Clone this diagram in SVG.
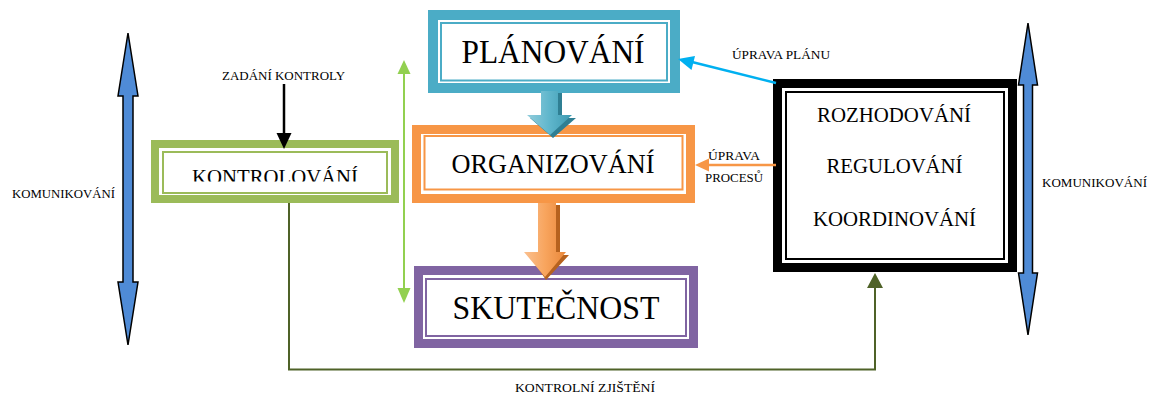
<svg xmlns="http://www.w3.org/2000/svg" width="1156" height="397" viewBox="0 0 1156 397">
<style>
.t{font-family:"Liberation Serif","Times New Roman",serif;fill:#000;text-anchor:middle}
.big{font-size:33px}
.mid{font-size:21px}
.sm{font-size:13px}
.box{fill:#fff}
</style>
<defs>
<linearGradient id="gTeal" x1="0" y1="0" x2="1" y2="0">
<stop offset="0" stop-color="#92CDDC"/><stop offset="0.5" stop-color="#5FB6CC"/><stop offset="1" stop-color="#3C99B0"/>
</linearGradient>
<linearGradient id="gOrange" x1="0" y1="0" x2="1" y2="0">
<stop offset="0" stop-color="#FAC090"/><stop offset="0.5" stop-color="#F8A55E"/><stop offset="1" stop-color="#E9873A"/>
</linearGradient>
<marker id="mBlack" markerWidth="6" markerHeight="6" refX="5" refY="3" orient="auto" markerUnits="strokeWidth"><path d="M0,0 L6,3 L0,6 Z" fill="#000"/></marker>
<clipPath id="clipK"><rect x="160" y="150" width="230" height="31.5"/></clipPath>
</defs>

<g id="komunikovani-left">
<path d="M128,33 L138,96 L133,96 L133,282 L138,282 L128,345 L118,282 L123,282 L123,96 L118,96 Z" fill="#4F8BD6" stroke="#000" stroke-width="1.5" stroke-linejoin="miter"/>
<text class="t" x="63.5" y="198" font-size="12.5" textLength="103" lengthAdjust="spacingAndGlyphs">KOMUNIKOVÁNÍ</text>
</g>

<g id="komunikovani-right">
<path d="M1028,23 L1037.5,85 L1032.5,85 L1032.5,273 L1037.5,273 L1028,335 L1018.5,273 L1023.5,273 L1023.5,85 L1018.5,85 Z" fill="#4F8BD6" stroke="#000" stroke-width="1.5"/>
<text class="t" x="1094.5" y="187" font-size="12.5" textLength="105" lengthAdjust="spacingAndGlyphs">KOMUNIKOVÁNÍ</text>
</g>

<g id="planovani">
<rect class="box" x="433" y="15" width="242" height="73" stroke="#4BACC6" stroke-width="10"/>
<rect fill="none" x="441" y="23" width="226" height="57.5" stroke="#4BACC6" stroke-width="2"/>
<text class="t big" x="553" y="63" textLength="183" lengthAdjust="spacingAndGlyphs">PLÁNOVÁNÍ</text>
</g>

<g id="organizovani">
<rect class="box" x="416.5" y="129.5" width="274" height="69" stroke="#F79646" stroke-width="9"/>
<rect fill="none" x="424.5" y="136" width="258" height="53.5" stroke="#F79646" stroke-width="2"/>
<text class="t" font-size="28" x="553" y="173" textLength="203" lengthAdjust="spacingAndGlyphs">ORGANIZOVÁNÍ</text>
</g>

<g id="skutecnost">
<rect class="box" x="418.5" y="270.5" width="275" height="73" stroke="#8064A2" stroke-width="9"/>
<rect fill="none" x="426" y="279" width="260" height="57" stroke="#8064A2" stroke-width="2"/>
<text class="t big" x="556" y="319" textLength="207" lengthAdjust="spacingAndGlyphs">SKUTEČNOST</text>
</g>

<g id="kontrolovani">
<rect class="box" x="155" y="144" width="240" height="55" stroke="#9BBB59" stroke-width="8"/>
<rect fill="none" x="163" y="152" width="224" height="41" stroke="#9BBB59" stroke-width="2"/>
<text class="t" font-size="22" x="275" y="184" textLength="166" lengthAdjust="spacingAndGlyphs" clip-path="url(#clipK)">KONTROLOVÁNÍ</text>
</g>

<g id="rozhodovani">
<rect class="box" x="777.5" y="83.5" width="235" height="184" stroke="#000" stroke-width="9"/>
<rect fill="none" x="786" y="92" width="218" height="167" stroke="#000" stroke-width="2"/>
<text class="t mid" x="894" y="122" textLength="154" lengthAdjust="spacingAndGlyphs">ROZHODOVÁNÍ</text>
<text class="t mid" x="894.5" y="173" textLength="136" lengthAdjust="spacingAndGlyphs">REGULOVÁNÍ</text>
<text class="t mid" x="894.5" y="226" textLength="163" lengthAdjust="spacingAndGlyphs">KOORDINOVÁNÍ</text>
</g>

<g id="connectors">
<!-- teal block arrow PLANOVANI -> ORGANIZOVANI -->
<path d="M544,93 L562,93 L562,118 L576,118 L553,138 L530,118 L544,118 Z" fill="#2F7F93"/>
<path d="M541,91 L558,91 L558,115 L572,115 L550,135 L527,115 L541,115 Z" fill="url(#gTeal)"/>
<!-- orange block arrow ORGANIZOVANI -> SKUTECNOST -->
<path d="M542,205 L560,205 L560,255 L569,255 L546,280 L529,255 L542,255 Z" fill="#B6621E"/>
<path d="M538,203 L556,203 L556,252 L566,252 L545,277 L524,252 L538,252 Z" fill="url(#gOrange)"/>
<!-- zadani kontroly -->
<line x1="284" y1="84" x2="284" y2="135" stroke="#000" stroke-width="2.5"/>
<path d="M276.5,133 L291.5,133 L284,149 Z" fill="#000"/>
<!-- green vertical double arrow -->
<line x1="404" y1="70" x2="404" y2="292" stroke="#92D050" stroke-width="2"/>
<path d="M397.5,74 L404,60 L410.5,74 Z" fill="#92D050"/>
<path d="M397.5,288 L404,303 L410.5,288 Z" fill="#92D050"/>
<!-- uprava planu -->
<line x1="776" y1="83" x2="692" y2="62" stroke="#00B0F0" stroke-width="2.5"/>
<path d="M678,59 L695,56 L691.5,70 Z" fill="#00B0F0"/>
<!-- uprava procesu -->
<line x1="776" y1="165" x2="705" y2="165" stroke="#F79646" stroke-width="2.5"/>
<path d="M695,165 L709,158.5 L709,171.5 Z" fill="#F79646"/>
<!-- kontrolni zjisteni -->
<polyline points="289,203 289,369.5 875,369.5 875,286" fill="none" stroke="#4F6228" stroke-width="2"/>
<path d="M867,288 L883,288 L875,273 Z" fill="#4F6228"/>
</g>

<g id="labels">
<text class="t sm" x="283.5" y="80" textLength="123" lengthAdjust="spacingAndGlyphs">ZADÁNÍ KONTROLY</text>
<text class="t sm" x="781" y="59" textLength="98" lengthAdjust="spacingAndGlyphs">ÚPRAVA PLÁNU</text>
<text class="t sm" x="734" y="160" textLength="52" lengthAdjust="spacingAndGlyphs">ÚPRAVA</text>
<text class="t sm" x="734" y="182" textLength="58" lengthAdjust="spacingAndGlyphs">PROCESŮ</text>
<text class="t sm" x="585" y="392" textLength="140" lengthAdjust="spacingAndGlyphs">KONTROLNÍ ZJIŠTĚNÍ</text>
</g>
</svg>
